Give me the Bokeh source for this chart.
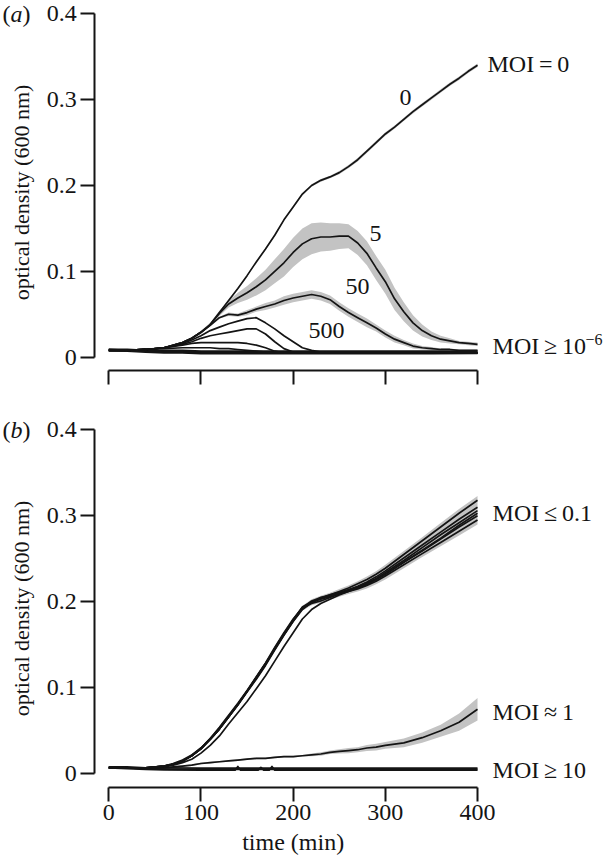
import numpy as np
from bokeh.plotting import figure
from bokeh.models import Range1d, FixedTicker, Label
from bokeh.layouts import column
from bokeh.embed import file_html
from bokeh.resources import INLINE

# ---------------- data ----------------
X_TICKS = [0, 100, 200, 300, 400]
X_TICK_LABELS = ["0", "100", "200", "300", "400"]
Y_TICKS = [0, 0.1, 0.2, 0.3, 0.4]
Y_TICK_LABELS = ["0", "0.1", "0.2", "0.3", "0.4"]
X_TITLE = "time (min)"
Y_TITLE = "optical density (600 nm)"

# ---- panel (a) ----
t_a = [0, 20, 40, 60, 80, 90, 100, 110, 120, 130, 140, 150, 160, 170, 180, 190, 200, 210, 220, 230,
       240, 250, 260, 270, 280, 290, 300, 310, 320, 330, 340, 350, 360, 370, 380, 390, 400]
od_a_moi0 = [.008, .008, .009, .011, .017, .022, .029, .038, .052, .066, .080, .095, .111, .126, .142, .160,
             .175, .190, .200, .206, .210, .215, .222, .230, .240, .250, .260, .268, .277, .286, .294, .302,
             .310, .318, .325, .333, .340]
err_a_moi0 = [.001, .001, .001, .001, .001, .001, .001, .001, .001, .001, .001, .001, .001, .001, .001, .001,
              .001, .0015, .0015, .0015, .0015, .002, .002, .002, .002, .002, .002, .002, .002, .002, .002,
              .002, .002, .002, .002, .002, .002]
od_a_moi5 = [.008, .008, .009, .011, .017, .022, .029, .038, .051, .062, .069, .075, .082, .090, .100, .110,
             .122, .132, .138, .140, .140, .141, .141, .133, .121, .104, .088, .068, .053, .040, .031, .025,
             .021, .019, .017, .016, .015]
err_a_moi5 = [.001, .001, .001, .001, .001, .001, .002, .002, .003, .004, .006, .008, .010, .012, .014, .016,
              .017, .018, .018, .017, .016, .015, .014, .014, .014, .014, .014, .013, .011, .009, .007, .005,
              .004, .003, .002, .002, .002]
od_a_moi50 = [.008, .008, .009, .011, .017, .022, .029, .037, .046, .050, .049, .052, .056, .059, .062, .066,
              .069, .071, .073, .071, .067, .059, .052, .046, .040, .034, .027, .021, .017, .013, .011, .010,
              .009, .009, .008, .008, .008]
err_a_moi50 = [.001, .001, .001, .001, .001, .001, .001, .001, .001, .002, .002, .003, .003, .004, .004, .005,
               .005, .005, .005, .005, .005, .005, .005, .005, .005, .004, .004, .004, .003, .003, .002, .002,
               .001, .001, .001, .001, .001]

t_a_peak = [0, 20, 40, 60, 80, 90, 100, 110, 120, 130, 140, 150, 160, 170, 180, 190, 200, 210, 220, 230,
            240, 260, 300, 350, 400]
od_a_moi500 = [.008, .008, .009, .011, .016, .020, .025, .031, .035, .039, .042, .045, .046, .040, .033, .025,
               .018, .011, .008, .006, .005, .005, .005, .005, .005]
od_a_peak2 = [.008, .008, .009, .011, .015, .018, .022, .025, .027, .029, .031, .033, .033, .027, .018, .010,
              .006, .005, .005, .005, .005, .005, .005, .005, .005]
od_a_peak3 = [.008, .008, .009, .011, .014, .016, .017, .017, .017, .017, .017, .016, .014, .011, .007, .005,
              .005, .005, .005, .005, .005, .005, .005, .005, .005]
od_a_peak4 = [.008, .008, .009, .010, .011, .011, .011, .011, .010, .010, .009, .008, .007, .006, .005, .005,
              .005, .005, .005, .005, .005, .005, .005, .005, .005]

t_a_low = [0, 20, 40, 60, 80, 100, 150, 200, 250, 300, 350, 400]
od_a_low1 = [.009, .009, .008, .008, .008, .007, .007, .007, .007, .007, .007, .007]
od_a_low2 = [.009, .008, .008, .007, .007, .006, .006, .006, .006, .006, .006, .006]
od_a_low3 = [.008, .008, .007, .006, .006, .005, .005, .005, .005, .005, .005, .005]
od_a_low4 = [.008, .007, .006, .005, .005, .004, .004, .004, .004, .004, .004, .0045]

# ---- panel (b) ----
t_b = [0, 20, 40, 60, 70, 80, 90, 100, 110, 120, 130, 140, 150, 160, 170, 180, 190, 200, 210, 220, 230,
       240, 250, 260, 270, 280, 290, 300, 320, 340, 360, 380, 400]
od_b_g1 = [.007, .007, .007, .009, .011, .015, .021, .029, .040, .052, .066, .080, .096, .112, .128, .145, .162,
           .178, .192, .199, .204, .208, .212, .216, .221, .226, .232, .239, .255, .271, .287, .303, .318]
od_b_g2 = [.007, .007, .007, .009, .011, .015, .021, .030, .041, .053, .067, .081, .096, .111, .127, .146, .163,
           .179, .194, .200, .203, .206, .210, .214, .218, .223, .229, .236, .251, .266, .281, .296, .310]
od_b_g3 = [.008, .007, .007, .009, .012, .016, .022, .030, .041, .054, .068, .082, .097, .113, .129, .147, .164,
           .180, .193, .198, .201, .205, .209, .213, .217, .222, .227, .234, .248, .263, .278, .292, .306]
od_b_g4 = [.007, .007, .007, .009, .011, .015, .021, .029, .040, .052, .066, .080, .095, .110, .126, .144, .161,
           .177, .191, .199, .205, .208, .211, .214, .217, .221, .226, .232, .246, .259, .273, .287, .300]
od_b_g5 = [.007, .007, .007, .009, .011, .015, .021, .029, .040, .052, .066, .081, .096, .112, .128, .145, .162,
           .178, .193, .201, .205, .207, .209, .212, .215, .219, .224, .230, .243, .256, .269, .282, .295]
od_b_g6 = [.007, .007, .007, .008, .010, .013, .017, .024, .033, .044, .058, .071, .084, .099, .114, .131, .148,
           .164, .180, .191, .198, .203, .208, .212, .216, .220, .226, .232, .246, .260, .274, .289, .303]
err_b_group = [.001, .001, .001, .001, .001, .001, .001, .001, .001, .001, .001, .001, .001, .001, .001, .001,
               .001, .001, .0015, .002, .002, .0025, .003, .003, .003, .0035, .0035, .004, .004, .004, .0045,
               .005, .005]
od_b_moi1 = [.007, .007, .007, .007, .008, .009, .010, .012, .013, .014, .015, .016, .017, .018, .018, .019, .020,
             .020, .021, .022, .023, .025, .026, .027, .028, .030, .031, .033, .036, .042, .050, .060, .075]
err_b_moi1 = [.001, .001, .001, .001, .001, .001, .001, .001, .001, .001, .001, .001, .001, .001, .001, .001,
              .001, .001, .001, .0015, .002, .002, .0025, .003, .003, .0035, .004, .004, .005, .006, .007,
              .010, .013]

t_b_high = [0, 20, 40, 60, 100, 137, 140, 143, 162, 165, 168, 174, 177, 180, 250, 300, 400]
od_b_h1 = [.008, .008, .007, .007, .0065, .0065, .0065, .0065, .0065, .0065, .0065, .0065, .0065, .0065, .0065,
           .0065, .0065]
od_b_h2 = [.007, .006, .005, .0045, .0042, .0042, .0085, .0042, .0042, .0075, .0042, .0042, .0085, .0042, .0042,
           .0042, .0042]
od_b_h3 = [.008, .007, .006, .0055, .005, .005, .005, .005, .005, .005, .005, .005, .005, .005, .005, .0052, .0052]

# labels
curve_labels_a = ["0", "5", "50", "500"]
side_labels_a = ["MOI\u2009=\u20090", "MOI\u2009\u2265\u200910", "\u22126"]
side_labels_b = ["MOI\u2009\u2264\u20090.1", "MOI\u2009\u2248\u20091", "MOI\u2009\u2265\u200910"]

# ---------------- style ----------------
FONT = "Liberation Serif"
INK = "#141414"
BAND = "#c3c3c3"
LW = 1.7
W = 604
PXMIN = 0.9218          # pixels per minute
X_ORIGIN = 108.3        # pixel of t = 0
X0 = -X_ORIGIN / PXMIN
X1 = (W - X_ORIGIN) / PXMIN
YAXIS_AT = (94.3 - X_ORIGIN) / PXMIN
YTITLE_X = (20.5 - X_ORIGIN) / PXMIN


def base_fig(height, y0, y1, xaxis_at, show_x_labels):
    p = figure(width=W, height=height, x_range=Range1d(X0, X1), y_range=Range1d(y0, y1),
               output_backend="svg", toolbar_location=None,
               min_border_left=0, min_border_right=0, min_border_top=0, min_border_bottom=0,
               background_fill_color="white", border_fill_color="white", outline_line_color=None)
    p.grid.visible = False
    for ax in (p.xaxis, p.yaxis):
        ax.axis_line_width = 2
        ax.axis_line_color = INK
        ax.major_tick_line_width = 2
        ax.major_tick_line_color = INK
        ax.major_tick_out = 14
        ax.major_tick_in = 0
        ax.minor_tick_out = 0
        ax.minor_tick_in = 0
        ax.major_label_text_font = FONT
        ax.major_label_text_font_size = "24px"
        ax.major_label_text_color = INK
    p.xaxis.ticker = FixedTicker(ticks=X_TICKS)
    p.xaxis.bounds = (0, 400)
    p.xaxis.fixed_location = xaxis_at
    p.yaxis.ticker = FixedTicker(ticks=Y_TICKS)
    p.yaxis.bounds = (0, 0.4)
    p.yaxis.fixed_location = YAXIS_AT
    p.yaxis.major_label_overrides = dict(zip(Y_TICKS, Y_TICK_LABELS))
    p.yaxis.major_label_standoff = 4
    if show_x_labels:
        p.xaxis.major_label_overrides = dict(zip(X_TICKS, X_TICK_LABELS))
        p.xaxis.major_label_standoff = 4
    else:
        p.xaxis.major_label_text_color = None
    return p


def band(p, t, lower, upper):
    p.varea(x=t, y1=lower, y2=upper, fill_color=BAND, fill_alpha=1.0)


def curve(p, t, od):
    p.line(t, od, line_color=INK, line_width=LW, line_join="round")


def text(p, x, y, s, size="24px", align="left", style="normal", x_offset=0, angle=0.0):
    p.add_layout(Label(x=x, y=y, x_offset=x_offset, text=s, text_font=FONT, text_font_size=size,
                       text_font_style=style, text_baseline="middle", text_align=align, text_color=INK,
                       angle=angle))


def panel_tag(p, letter, y):
    xs = (2 - X_ORIGIN) / PXMIN
    text(p, xs, y, "(")
    text(p, xs, y, letter, style="italic", x_offset=8)
    text(p, xs, y, ")", x_offset=20)


# ---------------- panel (a) ----------------
HA = 410
SA = 858.5           # pixels per OD unit
ZA = 356.7           # pixel row of OD = 0
pa = base_fig(HA, (ZA - HA) / SA, ZA / SA, (ZA - 370.0) / SA, False)
for od, err in ((od_a_moi0, err_a_moi0), (od_a_moi5, err_a_moi5), (od_a_moi50, err_a_moi50)):
    band(pa, t_a, np.array(od) - np.array(err), np.array(od) + np.array(err))
for od in (od_a_low1, od_a_low2, od_a_low3, od_a_low4):
    curve(pa, t_a_low, od)
for od in (od_a_moi500, od_a_peak2, od_a_peak3, od_a_peak4):
    curve(pa, t_a_peak, od)
for od in (od_a_moi0, od_a_moi5, od_a_moi50):
    curve(pa, t_a, od)

text(pa, 321.9, 0.3025, curve_labels_a[0], align="center")
text(pa, 289.3, 0.144, curve_labels_a[1], align="center")
text(pa, 269.8, 0.0824, curve_labels_a[2], align="center")
text(pa, 236.2, 0.0311, curve_labels_a[3], align="center")
text(pa, 410.8, 0.342, side_labels_a[0])
text(pa, 416.3, 0.0125, side_labels_a[1])
text(pa, 416.3, 0.0206, side_labels_a[2], size="16px", x_offset=93)
text(pa, YTITLE_X, (ZA - 192.0) / SA, Y_TITLE, size="22px", align="center", angle=np.pi / 2)
panel_tag(pa, "a", 0.4)

# ---------------- panel (b) ----------------
HB = 857 - HA
SB = 860.0
ZB = 773.3 - HA
pb = base_fig(HB, (ZB - HB) / SB, ZB / SB, (ZB - (786.7 - HA)) / SB, True)
group = np.array([od_b_g1, od_b_g2, od_b_g3, od_b_g4, od_b_g5])
err_g = np.array(err_b_group)
band(pb, t_b, group.min(axis=0) - err_g, group.max(axis=0) + err_g)
band(pb, t_b, np.array(od_b_moi1) - np.array(err_b_moi1), np.array(od_b_moi1) + np.array(err_b_moi1))
for od in (od_b_h1, od_b_h2, od_b_h3):
    curve(pb, t_b_high, od)
curve(pb, t_b, od_b_moi1)
for od in (od_b_g1, od_b_g2, od_b_g3, od_b_g4, od_b_g5, od_b_g6):
    curve(pb, t_b, od)

text(pb, 416.3, 0.3038, side_labels_b[0])
text(pb, 416.3, 0.0713, side_labels_b[1])
text(pb, 416.3, 0.005, side_labels_b[2])
text(pb, YTITLE_X, (ZB - (608.0 - HA)) / SB, Y_TITLE, size="22px", align="center", angle=np.pi / 2)
text(pb, 200, (ZB - (841.5 - HA)) / SB, X_TITLE, align="center")
panel_tag(pb, "b", 0.4)

layout = column(pa, pb)
open("out.html", "w").write(file_html(layout, INLINE))
